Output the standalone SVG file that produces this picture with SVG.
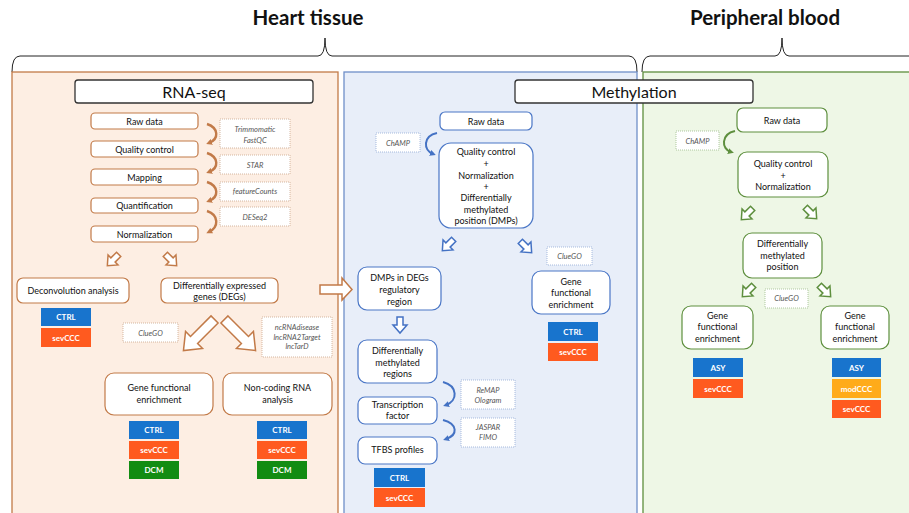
<svg xmlns="http://www.w3.org/2000/svg" xmlns:xlink="http://www.w3.org/1999/xlink" width="909" height="513" viewBox="0 0 909 513">
<style>
text{font-family:Lato,"Open Sans","Liberation Sans",sans-serif;text-anchor:middle;fill:#111}
.title{font-size:20.5px;font-weight:bold}
.sec{font-size:16px}
.t{font-size:9px}
.tool{font-size:7.5px;font-style:italic;fill:#555}
.lab{font-size:8px;font-weight:bold;fill:#fff}
.nb{fill:#fff;stroke:#c27a48;stroke-width:1.2}
.bb{fill:#fff;stroke:#4a76c6;stroke-width:1.2}
.gb{fill:#fff;stroke:#5e8f3e;stroke-width:1.2}
.tb{fill:#fff;stroke:#333;stroke-width:1.3}
.dn{fill:#fff;stroke:#c9a58c;stroke-width:0.8;stroke-dasharray:1 1}
.db{fill:#fff;stroke:#93aad6;stroke-width:0.8;stroke-dasharray:1 1}
.dg{fill:#fff;stroke:#9cbb8c;stroke-width:0.8;stroke-dasharray:1 1}
.blue{fill:#1874cd}
.red{fill:#ff5a1f}
.grn{fill:#128c12}
.amb{fill:#ffab1a}
.ao{fill:#fff;stroke:#c27a48;stroke-width:1.5;stroke-linejoin:miter}
.ab{fill:#fff;stroke:#4472c4;stroke-width:1.5}
.ag{fill:#fff;stroke:#5e8f3e;stroke-width:1.5}
.co{fill:none;stroke:#c27a48;stroke-width:2.4}
.cb{fill:none;stroke:#4472c4;stroke-width:2}
.cg{fill:none;stroke:#5e8f3e;stroke-width:2}
.brace{fill:none;stroke:#222;stroke-width:1}
</style>
<defs>
<polygon id="sa" points="-8,-3 0,-3 0,-7 8,0 0,7 0,3 -8,3"/>
<polygon id="ba" points="-22,-5 7,-5 7,-12 22,0 7,12 7,5 -22,5"/>
<marker id="mo" viewBox="0 0 10 10" refX="5" refY="5" markerWidth="6" markerHeight="6" markerUnits="userSpaceOnUse" orient="auto"><path d="M0,0 L10,5 L0,10 z" fill="#c27a48"/></marker>
<marker id="mb" viewBox="0 0 10 10" refX="5" refY="5" markerWidth="6" markerHeight="6" markerUnits="userSpaceOnUse" orient="auto"><path d="M0,0 L10,5 L0,10 z" fill="#4472c4"/></marker>
<marker id="mg" viewBox="0 0 10 10" refX="5" refY="5" markerWidth="6" markerHeight="6" markerUnits="userSpaceOnUse" orient="auto"><path d="M0,0 L10,5 L0,10 z" fill="#5e8f3e"/></marker>
</defs>
<rect width="909" height="513" fill="#fff"/>

<!-- headers -->
<g id="heart-tissue"><text class="title" x="308" y="25">Heart tissue</text></g>
<g id="peripheral-blood"><text class="title" x="765" y="25">Peripheral blood</text></g>
<g id="braces">
<path class="brace" d="M12,72 Q12,56 20,56 L318,56 Q325,56 325,38 Q325,56 332,56 L629,56 Q637,56 637,72"/>
<path class="brace" d="M642,72 Q642,56 650,56 L775,56 Q782,56 782,38 Q782,56 789,56 L912,56"/>
</g>

<!-- panels -->
<g id="panel-rna"><rect x="12" y="72" width="326" height="450" fill="#fdeee3" stroke="#c27a48" stroke-width="1.3"/></g>
<g id="panel-meth"><rect x="344" y="72" width="293" height="450" fill="#e8eef9" stroke="#6f8fc8" stroke-width="1.3"/></g>
<g id="panel-blood"><rect x="643" y="72" width="270" height="450" fill="#eef7e6" stroke="#5e8f3e" stroke-width="1.3"/></g>

<g id="title-rna"><rect class="tb" x="75" y="80" width="238" height="23" rx="3"/><text class="sec" x="194" y="97.5">RNA-seq</text></g>
<g id="title-meth"><rect class="tb" x="515" y="80" width="238" height="23" rx="3"/><text class="sec" x="634" y="97.5">Methylation</text></g>

<!-- connectors -->
<g id="connectors">
<path class="co" d="M207,124 C219,128 219,139 209,143" marker-end="url(#mo)"/>
<path class="co" d="M207,153 C219,157 219,168 209,172" marker-end="url(#mo)"/>
<path class="co" d="M207,182 C219,186 219,197 209,201" marker-end="url(#mo)"/>
<path class="co" d="M207,211 C219,215 219,227 209,232" marker-end="url(#mo)"/>
<use href="#sa" class="ao" transform="translate(113,260) rotate(135)"/>
<use href="#sa" class="ao" transform="translate(171,260) rotate(45)"/>
<use href="#ba" class="ao" transform="translate(199,335) rotate(135)"/>
<use href="#ba" class="ao" transform="translate(240,335) rotate(45)"/>
<polygon class="ao" points="320,285 342,285 342,278 352,289.5 342,300 342,294 320,294"/>
<path class="cb" d="M437,133 C423,136 423,150 433,154" marker-end="url(#mb)"/>
<use href="#sa" class="ab" transform="translate(448,245) rotate(135)"/>
<use href="#sa" class="ab" transform="translate(526,247) rotate(45)"/>
<use href="#sa" class="ab" transform="translate(400,325) rotate(90)"/>
<path class="cb" d="M443,382 C458,386 458,401 446,405" marker-end="url(#mb)"/>
<path class="cb" d="M443,420 C458,424 458,435 446,439" marker-end="url(#mb)"/>
<path class="cg" d="M735,131 C721,134 721,149 731,152" marker-end="url(#mg)"/>
<use href="#sa" class="ag" transform="translate(747,214) rotate(135)"/>
<use href="#sa" class="ag" transform="translate(811,213) rotate(45)"/>
<use href="#sa" class="ag" transform="translate(748,291) rotate(135)"/>
<use href="#sa" class="ag" transform="translate(825,291) rotate(45)"/>
</g>

<!-- RNA-seq nodes -->
<g id="rna-raw"><rect class="nb" x="91" y="113" width="107" height="16" rx="4"/><text class="t" x="144.5" y="124.5">Raw data</text></g>
<g id="rna-qc"><rect class="nb" x="91" y="141" width="107" height="16" rx="4"/><text class="t" x="144.5" y="152.5">Quality control</text></g>
<g id="rna-map"><rect class="nb" x="91" y="169" width="107" height="16" rx="4"/><text class="t" x="144.5" y="180.5">Mapping</text></g>
<g id="rna-quant"><rect class="nb" x="91" y="198" width="107" height="15" rx="4"/><text class="t" x="144.5" y="209">Quantification</text></g>
<g id="rna-norm"><rect class="nb" x="91" y="226" width="107" height="16" rx="4"/><text class="t" x="144.5" y="237.5">Normalization</text></g>
<g id="tool-trim"><rect class="dn" x="220" y="119" width="70" height="29"/><text class="tool" x="255" y="132">Trimmomatic</text><text class="tool" x="255" y="142.5">FastQC</text></g>
<g id="tool-star"><rect class="dn" x="220" y="155" width="70" height="19"/><text class="tool" x="255" y="167.5">STAR</text></g>
<g id="tool-fc"><rect class="dn" x="220" y="182" width="70" height="19"/><text class="tool" x="255" y="194">featureCounts</text></g>
<g id="tool-deseq"><rect class="dn" x="220" y="207" width="70" height="19"/><text class="tool" x="255" y="220">DESeq2</text></g>
<g id="rna-deconv"><rect class="nb" x="17" y="278" width="112" height="25" rx="6"/><text class="t" x="73" y="294">Deconvolution  analysis</text></g>
<g id="rna-degs"><rect class="nb" x="161" y="278" width="117" height="25" rx="6"/><text class="t" x="219.5" y="288.5">Differentially expressed</text><text class="t" x="219.5" y="299.5">genes (DEGs)</text></g>
<g id="rna-deconv-groups"><rect class="blue" x="41" y="308" width="50" height="18"/><text class="lab" x="66" y="320">CTRL</text><rect class="red" x="41" y="328" width="50" height="19"/><text class="lab" x="66" y="340.5">sevCCC</text></g>
<g id="tool-cluego-rna"><rect class="dn" x="123" y="323" width="55" height="19"/><text class="tool" x="150.5" y="335.5">ClueGO</text></g>
<g id="tool-ncrna"><rect class="dn" x="262" y="317" width="70" height="40"/><text class="tool" x="297" y="329.5">ncRNAdisease</text><text class="tool" x="297" y="339.5">lncRNA2Target</text><text class="tool" x="297" y="349">lncTarD</text></g>
<g id="rna-gfe"><rect class="nb" x="105" y="373" width="108" height="42" rx="9"/><text class="t" x="159" y="391">Gene functional</text><text class="t" x="159" y="402.5">enrichment</text></g>
<g id="rna-ncrna"><rect class="nb" x="223" y="373" width="109" height="42" rx="9"/><text class="t" x="277.5" y="391">Non-coding RNA</text><text class="t" x="277.5" y="402.5">analysis</text></g>
<g id="rna-gfe-groups"><rect class="blue" x="129" y="421" width="50" height="18"/><text class="lab" x="154" y="433">CTRL</text><rect class="red" x="129" y="441" width="50" height="18"/><text class="lab" x="154" y="453">sevCCC</text><rect class="grn" x="129" y="461" width="50" height="18"/><text class="lab" x="154" y="473">DCM</text></g>
<g id="rna-ncrna-groups"><rect class="blue" x="257" y="421" width="50" height="18"/><text class="lab" x="282" y="433">CTRL</text><rect class="red" x="257" y="441" width="50" height="18"/><text class="lab" x="282" y="453">sevCCC</text><rect class="grn" x="257" y="461" width="50" height="18"/><text class="lab" x="282" y="473">DCM</text></g>

<!-- Methylation nodes -->
<g id="meth-raw"><rect class="bb" x="440" y="112" width="92" height="18" rx="5"/><text class="t" x="486" y="124.5">Raw data</text></g>
<g id="tool-champ-meth"><rect class="db" x="376" y="133" width="44" height="19"/><text class="tool" x="398" y="145.5">ChAMP</text></g>
<g id="meth-qc"><rect class="bb" x="439" y="143" width="94" height="85" rx="12"/>
<text class="t" x="486" y="155">Quality control</text><text class="t" x="486" y="167">+</text><text class="t" x="486" y="178.5">Normalization</text><text class="t" x="486" y="189.5">+</text><text class="t" x="486" y="201">Differentially</text><text class="t" x="486" y="213">methylated</text><text class="t" x="486" y="224">position (DMPs)</text></g>
<g id="tool-cluego-meth"><rect class="db" x="547" y="247" width="45" height="18"/><text class="tool" x="569.5" y="259">ClueGO</text></g>
<g id="meth-dmps"><rect class="bb" x="358" y="267" width="83" height="43" rx="9"/><text class="t" x="399.5" y="281">DMPs in DEGs</text><text class="t" x="399.5" y="293">regulatory</text><text class="t" x="399.5" y="304.5">region</text></g>
<g id="meth-gfe"><rect class="bb" x="532" y="271" width="78" height="43" rx="9"/><text class="t" x="571" y="284.5">Gene</text><text class="t" x="571" y="296">functional</text><text class="t" x="571" y="307.5">enrichment</text></g>
<g id="meth-gfe-groups"><rect class="blue" x="548" y="322" width="50" height="19"/><text class="lab" x="573" y="334.5">CTRL</text><rect class="red" x="548" y="343" width="50" height="18"/><text class="lab" x="573" y="355">sevCCC</text></g>
<g id="meth-dmr"><rect class="bb" x="358" y="340" width="79" height="43" rx="9"/><text class="t" x="397.5" y="354">Differentially</text><text class="t" x="397.5" y="365.5">methylated</text><text class="t" x="397.5" y="377">regions</text></g>
<g id="tool-remap"><rect class="db" x="461" y="380" width="54" height="29"/><text class="tool" x="488" y="393">ReMAP</text><text class="tool" x="488" y="402.5">Ologram</text></g>
<g id="meth-tf"><rect class="bb" x="358" y="397" width="79" height="27" rx="7"/><text class="t" x="397.5" y="407.5">Transcription</text><text class="t" x="397.5" y="419">factor</text></g>
<g id="tool-jaspar"><rect class="db" x="461" y="418" width="54" height="29"/><text class="tool" x="488" y="430">JASPAR</text><text class="tool" x="488" y="440">FIMO</text></g>
<g id="meth-tfbs"><rect class="bb" x="358" y="437" width="79" height="27" rx="7"/><text class="t" x="397.5" y="453">TFBS profiles</text></g>
<g id="meth-tfbs-groups"><rect class="blue" x="374" y="468" width="51" height="19"/><text class="lab" x="399.5" y="480.5">CTRL</text><rect class="red" x="374" y="488" width="51" height="19"/><text class="lab" x="399.5" y="500.5">sevCCC</text></g>

<!-- Peripheral blood nodes -->
<g id="blood-raw"><rect class="gb" x="737" y="108" width="90" height="24" rx="6"/><text class="t" x="782" y="124">Raw data</text></g>
<g id="tool-champ-blood"><rect class="dg" x="676" y="131" width="43" height="19"/><text class="tool" x="697.5" y="143.5">ChAMP</text></g>
<g id="blood-qc"><rect class="gb" x="738" y="152" width="90" height="45" rx="9"/><text class="t" x="783" y="167">Quality control</text><text class="t" x="783" y="178.5">+</text><text class="t" x="783" y="190">Normalization</text></g>
<g id="blood-dmp"><rect class="gb" x="743" y="233" width="79" height="45" rx="9"/><text class="t" x="782.5" y="247">Differentially</text><text class="t" x="782.5" y="258.5">methylated</text><text class="t" x="782.5" y="270">position</text></g>
<g id="tool-cluego-blood"><rect class="dg" x="765" y="289" width="43" height="19"/><text class="tool" x="786.5" y="301">ClueGO</text></g>
<g id="blood-gfe-left"><rect class="gb" x="682" y="306" width="71" height="43" rx="9"/><text class="t" x="717.5" y="318.5">Gene</text><text class="t" x="717.5" y="330">functional</text><text class="t" x="717.5" y="342">enrichment</text></g>
<g id="blood-gfe-right"><rect class="gb" x="821" y="306" width="68" height="43" rx="9"/><text class="t" x="855" y="318.5">Gene</text><text class="t" x="855" y="330">functional</text><text class="t" x="855" y="342">enrichment</text></g>
<g id="blood-left-groups"><rect class="blue" x="693" y="358" width="50" height="19"/><text class="lab" x="718" y="370.5">ASY</text><rect class="red" x="693" y="379" width="50" height="19"/><text class="lab" x="718" y="391.5">sevCCC</text></g>
<g id="blood-right-groups"><rect class="blue" x="832" y="358" width="49" height="19"/><text class="lab" x="856.5" y="370.5">ASY</text><rect class="amb" x="832" y="379" width="49" height="19"/><text class="lab" x="856.5" y="391.5">modCCC</text><rect class="red" x="832" y="400" width="49" height="18"/><text class="lab" x="856.5" y="412">sevCCC</text></g>
</svg>
